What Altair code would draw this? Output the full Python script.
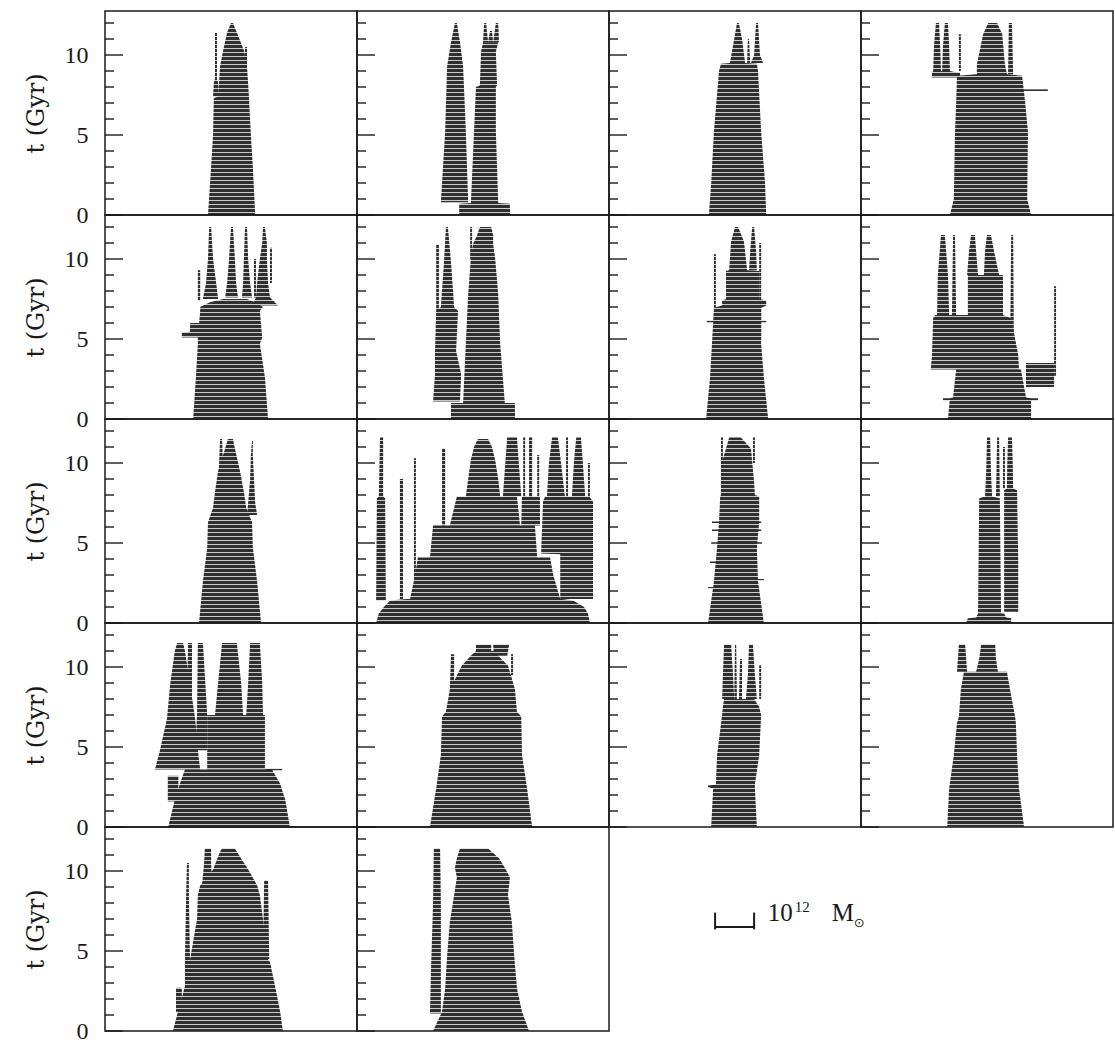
import altair as alt
import pandas as pd

# ---------------------------------------------------------------------------
# Merger-tree silhouettes.  Each branch: list of (t [Gyr], left, right) where
# left/right are mass positions inside the panel in units of 1e11 Msun.
# ---------------------------------------------------------------------------
T_MAX = 12.75
X_MAX = 64.6

P01 = {
    "main": [(0, 26.4, 38.5), (3, 27.2, 37.9), (5, 27.7, 37.4), (7.3, 27.9, 36.9), (7.4, 29.0, 36.9),
             (9.3, 29.5, 36.4), (10.3, 30.3, 35.6), (11.4, 31.3, 33.8), (12.0, 32.3, 32.8)],
    "b1": [(7.4, 27.7, 29.2), (8.3, 27.9, 29.0), (8.5, 28.2, 28.7), (11.4, 28.2, 28.7)],
    "b2": [(8.5, 35.6, 36.4), (10.5, 35.9, 36.4)],
}
P02 = {
    "left": [(0.8, 21.5, 28.5), (5.2, 22.6, 27.9), (9.3, 23.1, 27.2), (10.8, 24.1, 26.4), (12.0, 25.1, 25.6)],
    "right": [(0, 26.2, 39.2), (0.7, 26.2, 39.2), (0.75, 29.2, 36.2), (5.2, 30.0, 35.6), (8.0, 30.5, 35.6),
              (8.1, 31.5, 35.9), (10.2, 31.8, 35.6), (10.8, 32.3, 36.2)],
    "p1": [(10.8, 32.3, 33.6), (12.0, 32.6, 33.1)],
    "p2": [(10.8, 33.6, 34.9), (11.5, 34.1, 34.6)],
    "p3": [(10.8, 34.9, 36.4), (12.0, 35.6, 36.2)],
}
P03 = {
    "main": [(0, 25.6, 40.3), (2, 26.2, 40.0), (5.2, 26.9, 39.0), (9.0, 28.2, 38.2), (9.45, 28.7, 37.9),
             (9.5, 31.0, 34.9), (11, 32.1, 34.1), (12, 32.8, 33.3)],
    "b1": [(9.5, 36.4, 39.5), (10, 37.2, 38.7), (12, 37.7, 38.2)],
    "b2": [(9.5, 35.4, 36.2), (11, 35.6, 35.9)],
}
P04 = {
    "main": [(0, 22.8, 43.6), (1, 23.8, 42.6), (5.2, 24.1, 42.8), (7, 24.4, 42.1), (8.7, 24.6, 41.3),
             (8.8, 29.7, 37.4), (9.4, 29.7, 36.9), (11.3, 31.3, 36.2), (12, 32.6, 34.9)],
    "a": [(8.6, 18.2, 25.4), (8.9, 18.2, 25.4), (9.0, 18.5, 20.5), (10.5, 18.7, 20.3), (12, 19.2, 20.0)],
    "b": [(8.9, 20.5, 24.4), (9.0, 20.8, 22.8), (10.5, 21.0, 22.6), (12, 21.5, 22.3)],
    "c": [(9.0, 25.1, 25.6), (11.3, 25.1, 25.6)],
    "d": [(8.8, 37.7, 39.0), (12, 37.9, 38.7)],
    "e": [(7.75, 41.3, 47.9), (7.85, 41.3, 47.9)],
}
P05 = {
    "main": [(0, 22.6, 41.8), (2.6, 23.3, 41.0), (4.7, 23.8, 39.7), (5.1, 23.8, 40.3), (6.75, 24.4, 39.7),
             (7.0, 24.4, 40.5), (7.3, 26.9, 38.5), (7.5, 30.3, 36.4)],
    "l": [(5.1, 19.7, 24.4), (5.4, 19.7, 24.4), (5.45, 21.8, 24.4), (6.0, 21.8, 24.4)],
    "a": [(7.5, 25.1, 29.0), (8.5, 25.9, 28.5), (10, 26.4, 27.7), (12, 26.7, 27.2)],
    "b": [(7.6, 30.8, 34.1), (8.5, 31.3, 33.6), (10, 31.8, 33.3), (12, 32.3, 32.8)],
    "c": [(7.6, 35.1, 37.7), (8.5, 35.4, 37.2), (10, 35.6, 36.7), (12, 35.9, 36.4)],
    "d": [(7.1, 37.7, 44.4), (7.6, 38.7, 42.3), (8.5, 39.0, 41.8), (10, 39.7, 41.5), (11, 40.3, 41.5),
          (12, 40.5, 41.0)],
    "t1": [(7.4, 23.8, 24.4), (9.3, 23.8, 24.4)],
    "t2": [(7.6, 38.2, 38.7), (10.0, 38.2, 38.7)],
    "t3": [(8.5, 42.3, 42.8), (10.7, 42.3, 42.8)],
}
P06 = {
    "base": [(0, 24.1, 40.5), (1.0, 24.1, 40.5)],
    "right": [(1.0, 27.2, 37.9), (4.7, 27.9, 36.7), (7.8, 28.5, 36.2), (10.1, 29.2, 35.4), (10.9, 29.7, 34.9),
              (11.5, 30.8, 34.9), (12, 31.5, 34.4)],
    "thin": [(10.0, 29.0, 29.5), (12, 29.0, 29.5)],
    "left": [(1.1, 19.5, 26.4), (2.8, 20.0, 26.7), (4.25, 20.0, 25.4), (6.75, 20.3, 25.9), (7.0, 21.5, 24.9),
             (9.8, 22.3, 24.1), (12, 22.8, 23.3)],
    "lthin": [(6.75, 20.3, 21.0), (10.9, 20.3, 21.0)],
}
P07 = {
    "main": [(0, 24.9, 40.8), (2.6, 25.9, 39.7), (4.7, 26.4, 39.0), (6.95, 26.9, 39.0), (7.1, 29.0, 40.3),
             (7.4, 29.0, 40.3), (7.5, 30.0, 38.5), (9.25, 30.0, 38.5), (9.3, 30.8, 35.4), (11.1, 31.3, 34.6),
             (12, 32.3, 33.1)],
    "r": [(9.3, 35.9, 37.9), (10.5, 36.2, 37.7), (12, 36.7, 37.2)],
    "t1": [(6.95, 26.9, 27.4), (10.3, 26.9, 27.4)],
    "t2": [(5.0, 38.5, 39.0), (11.0, 38.5, 39.0)],
    "s": [(6.05, 25.1, 40.3), (6.15, 25.1, 40.3)],
}
P08 = {
    "a": [(0, 22.3, 43.6), (1.3, 22.8, 43.6), (1.35, 23.6, 42.3), (3.1, 24.4, 41.0)],
    "b": [(1.15, 21.0, 45.4), (1.3, 21.0, 45.4)],
    "c": [(2.0, 42.3, 49.5), (3.5, 42.3, 49.5)],
    "d": [(3.1, 17.9, 40.5), (4.0, 18.2, 40.3), (6.3, 18.5, 38.5), (6.5, 19.0, 36.4)],
    "e": [(6.5, 27.4, 36.4), (9.0, 27.4, 36.4)],
    "f": [(6.5, 19.5, 22.6), (9.0, 19.7, 22.3), (11.5, 20.5, 21.5)],
    "g": [(6.3, 23.3, 24.4), (11.5, 23.6, 24.1)],
    "h": [(9.0, 27.2, 30.0), (10.5, 27.7, 29.5), (11.5, 28.2, 29.2)],
    "i": [(9.0, 31.5, 35.4), (10.5, 31.8, 34.1), (11.5, 32.3, 33.3)],
    "j": [(4.1, 38.2, 39.2), (11.5, 38.5, 39.0)],
    "k": [(2.7, 49.5, 50.0), (8.3, 49.5, 50.0)],
}
P09 = {
    "main": [(0, 24.1, 40.0), (2.6, 25.1, 39.0), (4.7, 26.2, 37.9), (6.3, 26.4, 37.7), (7.2, 27.7, 36.2),
             (8.2, 28.2, 35.6), (9.5, 29.0, 34.6), (10.9, 30.8, 33.3), (11.5, 31.5, 32.8)],
    "l": [(9.7, 29.2, 30.3), (11.5, 29.5, 30.0)],
    "r": [(6.75, 36.4, 39.0), (7.5, 36.7, 38.5), (9, 37.2, 38.2), (10.5, 37.4, 37.9), (11.4, 37.7, 37.9)],
}
P10 = {
    "base": [(0, 4.9, 59.7), (0.6, 5.6, 59.2), (1.0, 6.9, 58.2), (1.4, 8.5, 55.4), (1.5, 12.8, 52.6)],
    "tier2": [(1.5, 13.6, 52.1), (3.0, 14.9, 50.3), (4.1, 15.6, 49.5)],
    "tier3": [(4.1, 18.7, 46.2), (6.1, 19.5, 45.6)],
    "tier4": [(6.1, 23.8, 41.8), (7.9, 25.6, 41.0)],
    "dome": [(7.9, 27.9, 36.7), (9, 28.5, 36.2), (10.2, 29.2, 35.4), (11, 30.0, 34.6), (11.5, 31.0, 33.6)],
    "l1": [(1.4, 4.9, 7.4), (7.8, 5.1, 7.2), (7.9, 5.6, 6.7), (11.6, 5.9, 6.7)],
    "l2": [(1.5, 11.0, 11.8), (9.0, 11.0, 11.8)],
    "l3": [(2.7, 14.6, 15.1), (10.3, 14.6, 15.1)],
    "l4": [(6.1, 21.8, 22.6), (10.9, 21.8, 22.6)],
    "r1": [(1.5, 52.1, 60.5), (4.3, 52.1, 60.5), (4.35, 47.2, 60.5), (7.6, 47.7, 60.5), (7.9, 48.2, 59.5)],
    "rs1": [(7.9, 37.4, 42.1), (11.6, 38.5, 41.0)],
    "rs2": [(7.9, 42.6, 43.1), (11.6, 42.6, 43.1)],
    "rs3": [(7.9, 44.1, 44.9), (11.6, 44.1, 44.9)],
    "rs4": [(7.9, 46.2, 46.7), (10.5, 46.2, 46.7)],
    "mid": [(6.1, 42.1, 46.9), (7.9, 42.3, 46.9)],
    "rs5": [(7.9, 48.7, 53.3), (10, 49.2, 52.3), (11.6, 50.0, 51.5)],
    "rs6": [(7.9, 53.6, 54.1), (11.6, 53.6, 54.1)],
    "rs7": [(7.9, 55.1, 58.5), (10, 55.6, 57.9), (11.6, 56.2, 57.4)],
    "rs8": [(1.5, 59.2, 59.7), (10.0, 59.2, 59.7)],
}
P11 = {
    "main": [(0, 25.4, 39.7), (2.6, 26.9, 38.2), (4.7, 27.7, 37.9), (6.3, 28.2, 38.5), (7.9, 28.5, 38.5),
             (8.0, 28.7, 37.4), (8.8, 28.7, 37.2), (10.1, 29.0, 36.7), (10.9, 30.0, 36.4), (11.6, 30.8, 33.8)],
    "t1": [(8.8, 28.7, 29.2), (11.6, 28.7, 29.2)],
    "t2": [(10.0, 36.9, 37.4), (11.6, 36.9, 37.4)],
    "s1": [(6.25, 26.4, 39.0), (6.35, 26.4, 39.0)],
    "s2": [(5.75, 26.4, 39.0), (5.85, 26.4, 39.0)],
    "s3": [(4.95, 26.2, 39.2), (5.05, 26.2, 39.2)],
    "s4": [(3.75, 25.9, 37.9), (3.85, 25.9, 37.9)],
    "s5": [(2.65, 27.2, 39.7), (2.75, 27.2, 39.7)],
    "s6": [(2.15, 25.4, 38.5), (2.25, 25.4, 38.5)],
}
P12 = {
    "base": [(0, 26.9, 38.5), (0.3, 27.4, 38.5), (0.35, 29.5, 37.2), (0.6, 30.0, 36.7)],
    "lcol": [(0.6, 30.0, 35.9), (7.8, 30.3, 35.6), (7.9, 31.8, 33.6), (9.5, 32.1, 33.3), (11.6, 32.3, 33.1)],
    "lp": [(7.9, 34.6, 35.6), (11.6, 34.9, 35.4)],
    "rcol": [(0.7, 36.7, 40.3), (4, 36.7, 40.3), (8.3, 36.7, 40.0), (8.4, 37.4, 39.0), (10, 37.5, 38.9),
             (11.6, 37.7, 38.7)],
    "rthin": [(8.4, 36.4, 36.9), (11.0, 36.4, 36.9)],
}
P13 = {
    "base": [(0, 16.2, 47.4), (1.7, 17.9, 46.2), (2.7, 19.2, 44.9), (3.6, 20.5, 42.8)],
    "bar": [(3.55, 41.0, 45.4), (3.65, 41.0, 45.4)],
    "blk": [(1.6, 16.1, 18.8), (3.2, 16.1, 18.8)],
    "ltree": [(3.6, 12.8, 24.4), (4.8, 14.1, 23.8), (6.8, 15.9, 23.1), (8.9, 16.7, 21.8), (11.0, 17.9, 20.5),
              (11.5, 18.5, 20.0)],
    "lp": [(8.0, 21.0, 22.3), (11.5, 21.3, 22.3)],
    "col": [(4.8, 23.1, 26.2), (7.0, 23.6, 26.2), (11.5, 23.8, 25.1)],
    "mblk": [(3.6, 26.2, 41.0), (7.0, 26.2, 41.0)],
    "peak": [(7.0, 28.2, 35.4), (9.0, 29.0, 34.9), (11.5, 30.0, 33.8)],
    "rtree": [(7.0, 36.2, 40.5), (9, 36.7, 40.3), (11.5, 37.2, 39.7)],
}
P14 = {
    "main": [(0, 18.7, 44.9), (2.4, 20.3, 43.6), (4.5, 21.5, 42.3), (6.9, 21.8, 42.1), (7.2, 22.8, 41.0),
             (8.6, 23.8, 40.5), (10.1, 26.9, 38.7), (10.7, 29.2, 36.2), (11.0, 30.5, 35.1)],
    "b1": [(10.7, 30.5, 34.4), (11.4, 30.5, 34.4)],
    "b2": [(10.7, 35.1, 38.5), (11.4, 34.9, 39.0)],
    "t1": [(8.6, 23.8, 24.9), (10.8, 24.1, 24.9)],
    "t2": [(9.5, 39.5, 40.0), (10.8, 39.5, 40.0)],
}
P15 = {
    "main": [(0, 26.2, 37.9), (2.4, 26.7, 37.4), (2.5, 25.4, 37.4), (2.6, 25.4, 37.4), (2.65, 27.4, 37.4),
             (4.5, 27.7, 38.5), (7.0, 29.0, 39.0), (7.5, 29.2, 38.5), (8.0, 29.5, 37.2)],
    "a": [(8.0, 29.0, 32.1), (9.5, 29.2, 31.8), (11.4, 29.5, 31.3)],
    "b": [(8.0, 32.1, 32.8), (11.4, 32.3, 32.6)],
    "c": [(8.0, 33.3, 34.1), (10.5, 33.6, 34.1)],
    "d": [(8.0, 35.1, 37.9), (9.5, 35.6, 37.4), (11.4, 35.9, 36.9)],
    "e": [(8.0, 38.5, 39.0), (10.1, 38.5, 39.0)],
}
P16 = {
    "main": [(0, 22.1, 41.8), (2.4, 22.6, 40.5), (4.5, 23.8, 40.0), (6.5, 24.6, 39.7), (6.9, 25.1, 39.5),
             (8.6, 25.6, 38.2), (9.7, 26.4, 37.4)],
    "lp": [(9.7, 24.6, 27.2), (11.4, 25.1, 26.7)],
    "rb": [(9.7, 29.5, 35.1), (10.5, 30.3, 34.6), (11.4, 30.8, 34.4)],
}
P17 = {
    "main": [(0, 17.4, 45.6), (1.2, 18.7, 44.9), (2.8, 20.5, 43.6), (4.3, 20.5, 42.3), (4.45, 21.8, 41.8),
             (7.0, 23.6, 40.5), (8.5, 23.8, 39.7), (9.1, 24.4, 39.0), (10.1, 27.7, 36.7), (11.2, 29.5, 33.8),
             (11.4, 30.0, 33.3)],
    "lthin": [(4.3, 20.5, 21.8), (8.5, 20.8, 21.5), (10.5, 21.0, 21.5)],
    "small": [(1.2, 18.2, 19.7), (2.7, 18.2, 19.7)],
    "rcol": [(4.5, 40.5, 42.1), (9.4, 40.8, 41.8)],
    "prong": [(9.1, 24.9, 27.4), (10.5, 25.4, 27.2), (11.4, 25.6, 27.2)],
}
P18 = {
    "main": [(0, 19.5, 44.1), (1.2, 21.8, 42.3), (2.65, 22.6, 41.0), (4.7, 23.1, 40.3), (6.8, 23.8, 39.7),
             (8.5, 24.9, 38.7), (9.6, 25.6, 39.2), (10.2, 25.1, 37.9), (10.8, 25.6, 36.4), (11.4, 26.4, 33.6)],
    "lcol": [(1.1, 18.7, 21.5), (4, 19.0, 21.5), (8, 19.5, 21.5), (11.4, 19.7, 21.3)],
}

PANELS = [P01, P02, P03, P04, P05, P06, P07, P08, P09, P10,
          P11, P12, P13, P14, P15, P16, P17, P18]

TICK_VALUES = list(range(0, 13))
MAJOR_TICKS = [0, 5, 10]

# scale bar: 1e12 Msun = 10 units of 1e11 Msun
BAR_START = [27.2]
BAR_END = [37.2]
BAR_T = [6.5]

# ---------------------------------------------------------------------------
FILL = "#2f2f2f"
INK = "#1a1a1a"
PW, PH = 252, 204

rows = []
for p, panel in enumerate(PANELS, start=1):
    for name, pts in panel.items():
        for i, (t, l, r) in enumerate(pts):
            rows.append({"panel": p, "branch": name, "i": i, "t": t, "left": l, "right": r})
df = pd.DataFrame(rows)

tick_df = pd.DataFrame({"t": TICK_VALUES, "major": [v in MAJOR_TICKS for v in TICK_VALUES]})
one_df = pd.DataFrame({"k": [0]})

ysc = alt.Scale(domain=[0, T_MAX], nice=False)
xsc = alt.Scale(domain=[0, X_MAX], nice=False)


def make_panel(p, first_col):
    if first_col:
        yaxis = alt.Axis(values=MAJOR_TICKS, format="d", ticks=False, tickSize=0, domain=False,
                         grid=False, labelFont="Liberation Serif", labelFontSize=24,
                         labelFontWeight="normal",
                         labelColor=INK, labelPadding=17, labelFlush=False,
                         title="t (Gyr)", titleFont="DejaVu Serif", titleFontSize=24,
                         titleFontWeight="normal", titleColor=INK, titlePadding=16)
    else:
        yaxis = None
    sub = df[df.panel == p]
    area = alt.Chart(sub).mark_area(orient="horizontal", color=FILL).encode(
        y=alt.Y("t:Q", scale=ysc, axis=yaxis),
        x=alt.X("left:Q", scale=xsc, axis=None),
        x2="right",
        detail="branch:N",
    )
    stripes = alt.Chart(one_df).mark_rule(
        color="white", strokeWidth=PW - 6, strokeDash=[1, 3], opacity=0.75, clip=True
    ).encode(x=alt.value(PW / 2), y=alt.value(1), y2=alt.value(PH - 1))
    minor = alt.Chart(tick_df).transform_filter("!datum.major").mark_rule(
        color=INK, strokeWidth=1.4
    ).encode(y=alt.Y("t:Q", scale=ysc, axis=yaxis), x=alt.value(0), x2=alt.value(9))
    major = alt.Chart(tick_df).transform_filter("datum.major").mark_rule(
        color=INK, strokeWidth=1.4
    ).encode(y=alt.Y("t:Q", scale=ysc, axis=yaxis), x=alt.value(0), x2=alt.value(18))
    return alt.layer(area, stripes, minor, major).properties(width=PW, height=PH)


def make_legend():
    bar_df = pd.DataFrame({"x0": BAR_START, "x1": BAR_END, "t": BAR_T})
    bar = alt.Chart(bar_df).mark_rule(color=INK, strokeWidth=2).encode(
        x=alt.X("x0:Q", scale=xsc, axis=None), x2="x1:Q",
        y=alt.Y("t:Q", scale=ysc, axis=None))
    cap_df = pd.DataFrame({"x": BAR_START + BAR_END, "lo": [6.35, 6.35], "hi": [7.4, 7.4]})
    caps = alt.Chart(cap_df).mark_rule(color=INK, strokeWidth=2).encode(
        x=alt.X("x:Q", scale=xsc, axis=None),
        y=alt.Y("lo:Q", scale=ysc, axis=None), y2="hi:Q")
    lab_df = pd.DataFrame({"x": [40.7], "t": [6.875]})
    base = alt.Chart(lab_df).encode(x=alt.X("x:Q", scale=xsc, axis=None),
                                     y=alt.Y("t:Q", scale=ysc, axis=None))
    ten = base.mark_text(text="10", align="left", baseline="alphabetic", font="Liberation Serif",
                         fontSize=25, color=INK)
    exp = base.mark_text(text="12", align="left", baseline="alphabetic", font="Liberation Serif",
                         fontSize=15, color=INK, dx=27, dy=-9)
    m = base.mark_text(text="M", align="left", baseline="alphabetic", font="Liberation Serif",
                       fontSize=25, color=INK, dx=64)
    sun = base.mark_text(text="⊙", align="left", baseline="alphabetic", font="DejaVu Sans",
                         fontSize=13, color=INK, dx=86, dy=6)
    return alt.layer(bar, caps, ten, exp, m, sun).properties(
        width=PW, height=PH, view=alt.ViewBackground(stroke="transparent"))


cells = [make_panel(idx, (idx - 1) % 4 == 0) for idx in range(1, 19)]
cells.append(make_legend())

chart = alt.concat(*cells, columns=4, spacing=0, bounds="flush").properties(
    padding={"left": 23, "top": 10, "right": 0, "bottom": 0},
    background="white",
).configure_view(stroke=INK, strokeWidth=1.5)

chart.save("out.html", embed_options={"renderer": "svg", "actions": False})
